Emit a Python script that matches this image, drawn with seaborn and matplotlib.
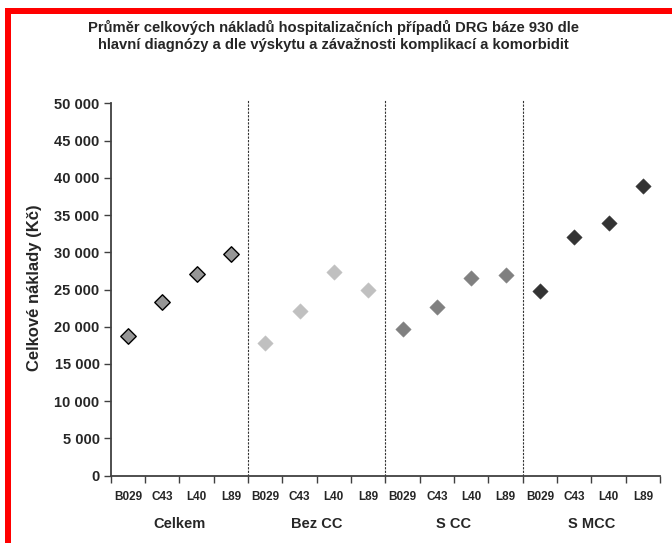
import matplotlib
matplotlib.use("Agg")
import matplotlib.pyplot as plt
import seaborn as sns
import pandas as pd
from matplotlib.lines import Line2D
from matplotlib.ticker import FuncFormatter, FixedLocator

groups = ["Celkem", "Bez CC", "S CC", "S MCC"]
diagnoses = ["B029", "C43", "L40", "L89"]
celkem = [18750, 23300, 27100, 29700]
bez_cc = [17800, 22150, 27300, 24950]
s_cc = [19700, 22700, 26500, 26900]
s_mcc = [24850, 32050, 33950, 38900]
yticks = [0, 5000, 10000, 15000, 20000, 25000, 30000, 35000, 40000, 45000, 50000]

title = ("Průměr celkových nákladů hospitalizačních případů DRG báze 930 dle\n"
         "hlavní diagnózy a dle výskytu a závažnosti komplikací a komorbidit")
ylabel = "Celkové náklady (Kč)"

face = {"Celkem": "#969696", "Bez CC": "#C0C0C0", "S CC": "#808080", "S MCC": "#333333"}
edge = {"Celkem": "#000000", "Bez CC": "#C0C0C0", "S CC": "#808080", "S MCC": "#333333"}

rows = []
for gi, (g, vals) in enumerate(zip(groups, [celkem, bez_cc, s_cc, s_mcc])):
    for di, (d, v) in enumerate(zip(diagnoses, vals)):
        rows.append({"group": g, "diag": d, "pos": gi * len(diagnoses) + di, "value": v})
df = pd.DataFrame(rows)

sns.set_theme(style="white")
plt.rcParams["font.family"] = ["Liberation Sans", "DejaVu Sans"]
plt.rcParams["font.weight"] = "bold"

fig = plt.figure(figsize=(6.72, 5.43), dpi=100)
ax = fig.add_axes([110.7 / 672, 1 - 475.7 / 543, (660 - 110.7) / 672, (475.7 - 100) / 543])

for g in groups:
    sub = df[df["group"] == g]
    sns.scatterplot(data=sub, x="pos", y="value", marker="D", s=62,
                    color=face[g], edgecolor=edge[g],
                    linewidth=1.0 if g == "Celkem" else 0.3, ax=ax, legend=False, zorder=3)

n = len(df)
ax.set_xlim(-0.5, n - 0.5)
ax.set_ylim(0, 50000 * (475.7 - 100) / (475.7 - 103.3))

# group separators
for k in range(1, len(groups)):
    ax.axvline(k * len(diagnoses) - 0.5, color="#333333", lw=0.8, ls=(0, (2, 1.2)), zorder=1)

# axes styling
for s in ["top", "right"]:
    ax.spines[s].set_visible(False)
ax.spines["left"].set_bounds(0, 50000)
ax.spines["left"].set_color("#404040")
ax.spines["left"].set_linewidth(1.3)
ax.spines["bottom"].set_color("#404040")
ax.spines["bottom"].set_linewidth(1.3)

ax.yaxis.set_major_locator(FixedLocator(yticks))
ax.yaxis.set_major_formatter(FuncFormatter(lambda v, p: f"{int(v):,}".replace(",", " ")))
ax.tick_params(axis="y", which="major", left=True, length=5, width=1, color="#404040",
               labelsize=10.5, pad=3)
for lab in ax.get_yticklabels():
    lab.set_fontweight("bold")

# x ticks: boundaries as tick marks, centers as labels
ax.set_xticks([i - 0.5 for i in range(n + 1)])
ax.set_xticklabels([])
ax.set_xticks(list(range(n)), minor=True)
ax.set_xticklabels(list(df["diag"]), minor=True, fontsize=8.5, fontweight="bold")
ax.tick_params(axis="x", which="major", bottom=True, length=5, width=1, color="#404040")
ax.tick_params(axis="x", which="minor", bottom=False, length=0, pad=11)

ax.set_xlabel("")
ax.set_ylabel(ylabel, fontsize=12, fontweight="bold", labelpad=9)

# group labels
for gi, g in enumerate(groups):
    fig.text((110.7 + (gi + 0.5) * (660 - 110.7) / len(groups)) / 672, 1 - 524 / 543, g,
             fontsize=10.5, fontweight="bold", ha="center", va="center")

fig.text(333 / 672, 1 - 36 / 543, title, fontsize=10.6, fontweight="bold",
         ha="center", va="center", linespacing=1.2)

# red frame (top and left)
fig.add_artist(Line2D([5 / 672, 1.0], [1 - 11 / 543, 1 - 11 / 543], color="#FF0000",
                      lw=6 * 0.72, transform=fig.transFigure, solid_capstyle="butt"))
fig.add_artist(Line2D([8 / 672, 8 / 672], [1 - 8 / 543, 0], color="#FF0000",
                      lw=6 * 0.72, transform=fig.transFigure, solid_capstyle="butt"))

fig.savefig("out.png", dpi=100)
